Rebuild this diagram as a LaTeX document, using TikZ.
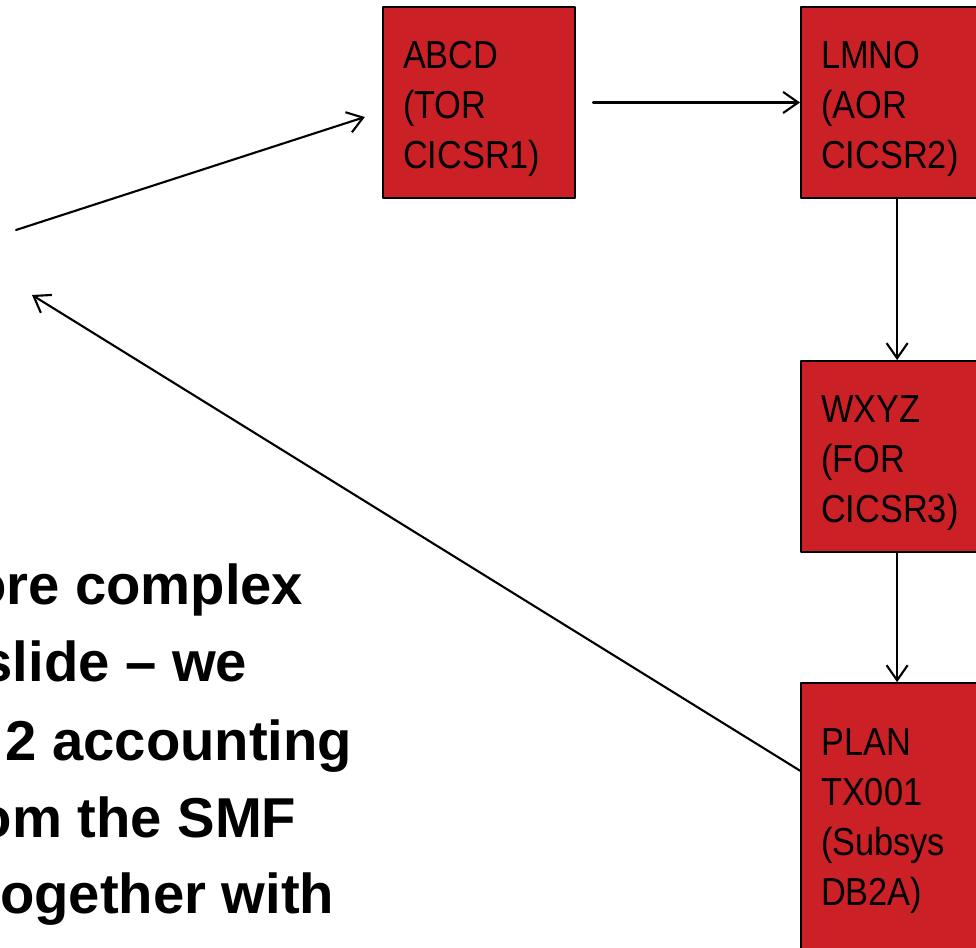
\documentclass[tikz,border=0pt]{standalone}
\usepackage{fontspec}
\setmainfont{Liberation Sans}
\newfontfamily\boxfont[FakeStretch=0.88]{Liberation Sans}
\usetikzlibrary{arrows.meta,positioning}
\definecolor{boxred}{RGB}{204,32,39}
\tikzset{
	cics/.style={draw=black, line width=0.6pt, fill=boxred, minimum width=1.92cm, minimum height=1.91cm,
		inner sep=0pt, text width=1.52cm, text height=11.4pt, align=left, font=\boxfont\fontsize{11.1}{14.2}\selectfont},
	flow/.style={line width=0.6pt, -{Straight Barb[length=4.3pt,width=6pt]}},
	slidetext/.style={font=\bfseries\fontsize{16}{21.9}\selectfont, inner sep=0pt, anchor=base east}
}
\begin{document}
\begin{tikzpicture}[line join=round, line cap=round]
				\useasboundingbox (0,0) rectangle (9.76,-9.48);
				\clip (0,0) rectangle (9.76,-9.48);
				%\draw[gray!10] (0,-9.48) grid (9.76,0);
				% regions
				\node[cics] (abcd) at (4.79,-1.025) {ABCD\\(TOR\\CICSR1)};
				\node[cics, right=2.24cm of abcd] (lmno) {LMNO\\(AOR\\CICSR2)};
				\node[cics, below=1.61cm of lmno] (wxyz) {WXYZ\\(FOR\\CICSR3)};
				\node[cics, below=1.29cm of wxyz, minimum height=2.75cm, text height=8pt] (plan) {PLAN\\TX001\\(Subsys\\DB2A)};
				% free ends on the left
				\coordinate (in) at (0.16,-2.30);
				\coordinate (back) at (0.32,-2.95);
				\draw[flow, shorten >=0.18cm] (in) -- ([yshift=-0.09cm]abcd.west);
				\draw[flow, shorten <=0.17cm] (abcd) -- (lmno);
				\draw[flow] (lmno) -- (wxyz);
				\draw[flow] (wxyz) -- (plan);
				\draw[flow] ([yshift=0.5cm]plan.west) -- (back);
				% slide text, cut at the left edge
				\node[slidetext] (t1) at (3.04,-6.05) {ore complex};
				\node[slidetext] (t2) at (2.48,-6.82) {slide – we};
				\node[slidetext] (t3) at (3.53,-7.60) {2 accounting};
				\node[slidetext] (t4) at (2.97,-8.37) {om the SMF};
				\node[slidetext] (t5) at (3.35,-9.13) {ogether with};
			\end{tikzpicture}
\end{document}
